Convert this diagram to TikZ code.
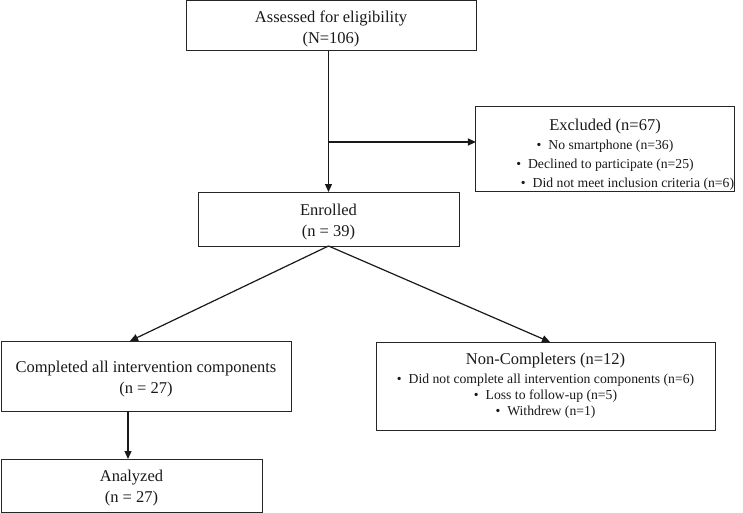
\documentclass[tikz,border=0pt]{standalone}
\usepackage{fontspec}
\setmainfont{Liberation Serif}
\usetikzlibrary{arrows.meta,calc}
\newcommand\bfnt{\fontsize{13.7}{16}\selectfont}
\newcommand\bul{\textbullet\hspace{7pt}}
\newcommand\tstrut[1]{\rule{0pt}{#1}}
\begin{document}
\begin{tikzpicture}[x=1pt,y=-1pt,
  box/.style={draw=black!85,line width=1pt,inner sep=0pt,outer sep=0pt,align=center,
    font=\fontsize{16.5}{21}\selectfont,text=black!90},
  arr/.style={draw=black!90,line width=1.2pt,-{Triangle[length=8pt,width=7pt]}}]
\useasboundingbox (0,0) rectangle (743,513);
\node[box,minimum width=290,minimum height=50] (assess) at (331,26) {\tstrut{17pt}Assessed for eligibility\\(N=106)};
\node[box,minimum width=258,minimum height=84] (excl) at (605,149)
  {\tstrut{22pt}Excluded (n=67)\\[-2pt]
   \bfnt\bul No smartphone (n=36)\hspace*{12pt}\\[-2pt]
   \bfnt\bul Declined to participate (n=25)\hspace*{16pt}\\[-2pt]
   \bfnt\hspace*{45pt}\bul Did not meet inclusion criteria (n=6)};
\node[box,minimum width=261,minimum height=54] (enrolled) at (328.5,219) {\tstrut{17pt}Enrolled\\(n = 39)};
\node[box,minimum width=290,minimum height=70] (completed) at (146,376) {\tstrut{17pt}Completed all intervention components\\(n = 27)};
\node[box,minimum width=339,minimum height=88] (nc) at (545.5,386)
  {Non-Completers (n=12)\\[-2pt]
   \bfnt\bul Did not complete all intervention components (n=6)\\[-5pt]
   \bfnt\bul Loss to follow-up (n=5)\\[-5pt]
   \bfnt\bul Withdrew (n=1)};
\node[box,minimum width=261,minimum height=53] (analyzed) at (131.5,485.5) {\tstrut{17pt}Analyzed\\(n = 27)};
\coordinate (split) at (328.5,142);
\draw[arr] (assess.south -| enrolled.north) -- (enrolled.north);
\draw[arr] (split) -- (split -| excl.west);
\draw[arr] (enrolled.south) -- ($(completed.north)+(-16,0)$);
\draw[arr] (enrolled.south) -- ($(nc.north)+(4.5,0)$);
\coordinate (c1) at ($(completed.south)+(-18,0)$);
\draw[arr] (c1) -- (c1 |- analyzed.north);
\end{tikzpicture}
\end{document}
